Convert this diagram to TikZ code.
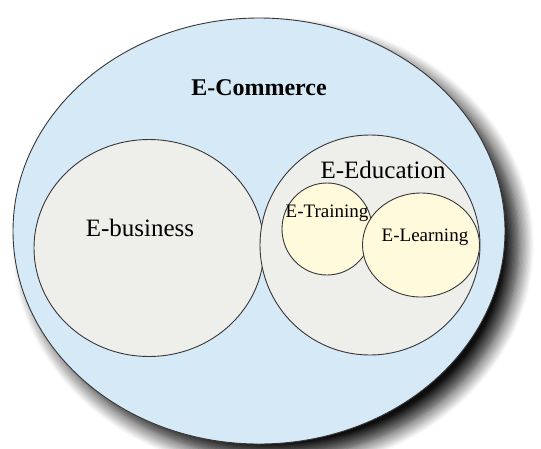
\documentclass[tikz,border=0pt]{standalone}
\usepackage{fontspec}
\setmainfont{Liberation Serif}
\usetikzlibrary{shapes.geometric,shadows.blur}

\definecolor{skyfill}{RGB}{214,233,247}
\definecolor{greyfill}{RGB}{238,238,235}
\definecolor{creamfill}{RGB}{255,250,220}
\definecolor{rimline}{RGB}{55,55,55}

\tikzset{
  ring/.style={ellipse, draw=rimline, line width=0.9pt, inner sep=0pt},
  headtag/.style={font=\fontsize{24}{28}\selectfont\bfseries},
  bigtag/.style={font=\fontsize{25}{30}\selectfont},
  smalltag/.style={font=\fontsize{19}{23}\selectfont},
}

\begin{document}
\begin{tikzpicture}[x=1pt,y=-1pt]
\useasboundingbox (0,0) rectangle (541,448);

% outer field with its shadow
\node[ring, fill=skyfill, minimum width=492pt, minimum height=426pt,
      blur shadow={shadow xshift=14pt, shadow yshift=-14pt,
                   shadow blur radius=15pt, shadow blur steps=12,
                   shadow opacity=95}] (commerce) at (259,231) {};

% the two big fields
\node[ring, fill=greyfill, minimum width=230pt, minimum height=217pt] (business) at (149,248) {};
\node[ring, fill=greyfill, minimum width=220pt, minimum height=220pt] (education) at (370,245) {};

% the two small fields
\node[ring, fill=creamfill, minimum width=90pt, minimum height=92pt] (training) at (327,229) {};
\node[ring, fill=creamfill, minimum width=117pt, minimum height=104pt] (learning) at (421,245) {};

% labels
\node[headtag] (commercetxt) at (259,88) {E-Commerce};
\node[bigtag] (businesstxt) at (140,228) {E-business};
\node[bigtag] (educationtxt) at (383,170) {E-Education};
\node[smalltag] (trainingtxt) at (327,213) {E-Training};
\node[smalltag] (learningtxt) at (425,237) {E-Learning};
\end{tikzpicture}
\end{document}
